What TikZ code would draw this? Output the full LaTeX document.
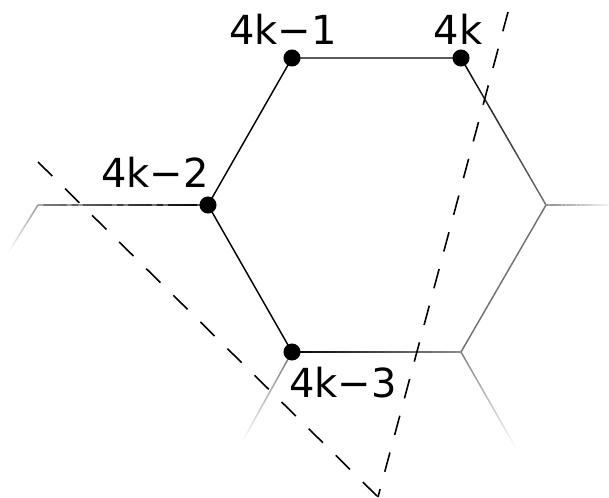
\documentclass[tikz,border=0pt]{standalone}
\usepackage{fontspec}
\setmainfont{DejaVu Sans}
\usepackage{tikz}
\usetikzlibrary{calc}

% arista que se desvanece: nodo inicial, nodo final, % negro inicial, % negro final
\newcommand{\degradado}[4]{%
  \foreach \i in {0,...,29}{
    \pgfmathsetmacro{\p}{#3+(#4-#3)*(\i+0.5)/30}
    \draw[black!\p, line cap=round] ($(#1)!\i/30!(#2)$) -- ($(#1)!{(\i+1)/30}!(#2)$);
  }}

\begin{document}
\begin{tikzpicture}[x=0.75pt, y=-0.75pt, line width=1.1pt,
    punto/.style={circle, fill=black, inner sep=0pt, minimum size=12.8pt},
    etiqueta/.style={anchor=base, font=\fontsize{30}{36}\selectfont},
    corte/.style={dashed, dash pattern=on 15pt off 13.5pt, line width=1.2pt}]
    \useasboundingbox (0,0) rectangle (609,498);
    % vertices del hexagono
    \coordinate (v1) at (292,58);  \coordinate (v2) at (461,58);
    \coordinate (vd) at (546,205); \coordinate (vi) at (461,352);
    \coordinate (v4) at (292,352); \coordinate (v3) at (208,205);
    % extremos de las aristas vecinas
    \coordinate (e1) at (38,205);  \coordinate (e2) at (8,253);
    \coordinate (e3) at (609,205); \coordinate (e4) at (517,450);
    \coordinate (e5) at (242,442);
    % aristas negras
    \draw (v2) -- (v1) -- (v3) -- (v4);
    % aristas que se desvanecen
    \degradado{v2}{vd}{100}{55}
    \degradado{vd}{vi}{55}{55}
    \degradado{v4}{vi}{100}{45}
    \degradado{v3}{e1}{100}{50}
    \degradado{e1}{e2}{40}{0}
    \degradado{vd}{e3}{45}{5}
    \degradado{vi}{e4}{50}{0}
    \degradado{v4}{e5}{55}{0}
    % lineas de corte
    \coordinate (c1) at (38,162); \coordinate (c2) at (508,12);
    \coordinate (c0) at (378,497);
    \draw[corte] (c1) -- (c0);
    \draw[corte] (c2) -- (c0);
    % puntos y etiquetas
    \foreach \v in {v1,v2,v3,v4} \node[punto] (p\v) at (\v) {};
    \node[etiqueta] (t1) at (283,45) {4k−1};
    \node[etiqueta] (t2) at (458,45) {4k};
    \node[etiqueta] (t3) at (155,188) {4k−2};
    \node[etiqueta] (t4) at (343,397) {4k−3};
\end{tikzpicture}
\end{document}
